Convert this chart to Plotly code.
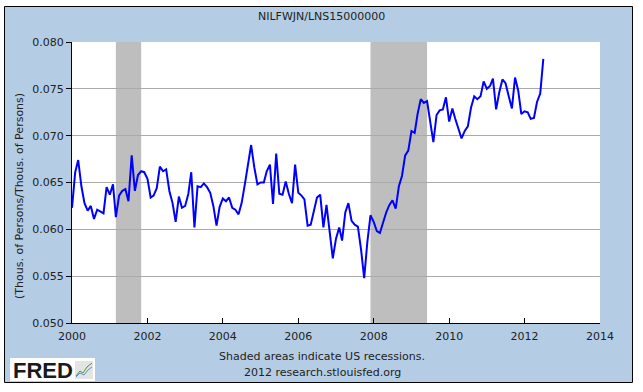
import pandas as pd
import plotly.graph_objects as go

# ---- data (monthly, Jan 2000 .. Jul 2012) ----
start_month = "2000-01-01"
ratio_values = [
    0.0623, 0.0661, 0.0674, 0.0646, 0.0628, 0.0620, 0.0625, 0.0611, 0.0621, 0.0619, 0.0617, 0.0645,
    0.0637, 0.0648, 0.0613, 0.0636, 0.0641, 0.0643, 0.0630, 0.0679, 0.0641, 0.0658, 0.0662, 0.0661,
    0.0654, 0.0634, 0.0636, 0.0644, 0.0667, 0.0662, 0.0664, 0.0641, 0.0628, 0.0608, 0.0635, 0.0623,
    0.0625, 0.0638, 0.0661, 0.0602, 0.0646, 0.0645, 0.0649, 0.0645, 0.0639, 0.0625, 0.0604, 0.0624,
    0.0633, 0.0630, 0.0634, 0.0623, 0.0621, 0.0616, 0.0628, 0.0648, 0.0668, 0.0690, 0.0666, 0.0648,
    0.0650, 0.0650, 0.0662, 0.0669, 0.0627, 0.0681, 0.0638, 0.0637, 0.0651, 0.0638, 0.0628, 0.0669,
    0.0639, 0.0636, 0.0632, 0.0604, 0.0605, 0.0621, 0.0634, 0.0637, 0.0602, 0.0626, 0.0597, 0.0569,
    0.0590, 0.0602, 0.0588, 0.0618, 0.0628, 0.0609, 0.0605, 0.0603, 0.0578, 0.0548, 0.0587, 0.0615,
    0.0608, 0.0598, 0.0596, 0.0607, 0.0618, 0.0626, 0.0631, 0.0622, 0.0646, 0.0657, 0.0679, 0.0684,
    0.0705, 0.0703, 0.0723, 0.0739, 0.0735, 0.0737, 0.0717, 0.0693, 0.0722, 0.0727, 0.0728, 0.0741,
    0.0715, 0.0729, 0.0718, 0.0707, 0.0697, 0.0705, 0.0710, 0.0730, 0.0742, 0.0739, 0.0742, 0.0758,
    0.0750, 0.0753, 0.0761, 0.0728, 0.0746, 0.0760, 0.0756, 0.0742, 0.0729, 0.0762, 0.0748, 0.0723,
    0.0726, 0.0725, 0.0718, 0.0719, 0.0736, 0.0745, 0.0782,
]
recession_starts = ["2001-03-01", "2007-12-01"]
recession_ends = ["2001-11-01", "2009-06-01"]
x_tick_years = [2000, 2002, 2004, 2006, 2008, 2010, 2012, 2014]
y_tick_values = [0.050, 0.055, 0.060, 0.065, 0.070, 0.075, 0.080]

title_text = "NILFWJN/LNS15000000"
y_title_text = "(Thous. of Persons/Thous. of Persons)"
note_lines = ["Shaded areas indicate US recessions.", "2012 research.stlouisfed.org"]

months = pd.date_range(start_month, periods=len(ratio_values), freq="MS")

# ---- geometry (pixels) ----
W, H = 643, 392
PL, PR, PT, PB = 72, 600, 42, 323
pw, ph = PR - PL, PB - PT


def px(xp):
    return (xp - PL) / pw


def py(yp):
    return (PB - yp) / ph


BLUE_BG = "#B4CDE4"
FONT = "DejaVu Sans"

fig = go.Figure()
fig.add_trace(go.Scatter(
    x=months, y=ratio_values, mode="lines",
    line=dict(color="#0000FF", width=2),
    hoverinfo="x+y", showlegend=False,
))

shapes = []
# recession shading
for s, e in zip(recession_starts, recession_ends):
    shapes.append(dict(type="rect", xref="x", yref="paper", x0=s, x1=e, y0=0, y1=1,
                       fillcolor="#BEBEBE", line=dict(width=0), layer="between"))
# white outer strip + black frame
white = dict(fillcolor="white", line=dict(width=0), layer="above", xref="paper", yref="paper", type="rect")
shapes += [
    dict(white, x0=px(-5), x1=px(W + 5), y0=py(-5), y1=py(6)),
    dict(white, x0=px(-5), x1=px(W + 5), y0=py(382), y1=py(H + 5)),
    dict(white, x0=px(-5), x1=px(4), y0=py(-5), y1=py(H + 5)),
    dict(white, x0=px(633), x1=px(W + 5), y0=py(-5), y1=py(H + 5)),
    dict(type="rect", xref="paper", yref="paper", x0=px(4.5), x1=px(632.5), y0=py(6.5), y1=py(382.5),
         line=dict(color="black", width=1), fillcolor="rgba(0,0,0,0)", layer="above"),
    # FRED logo box
    dict(type="rect", xref="paper", yref="paper", x0=px(10), x1=px(95), y0=py(358), y1=py(381),
         fillcolor="white", line=dict(width=0), layer="above"),
    dict(type="rect", xref="paper", yref="paper", x0=px(75), x1=px(93), y0=py(361), y1=py(379),
         fillcolor="#E4E4E4", line=dict(width=0), layer="above"),
    dict(type="path", xref="paper", yref="paper",
         path=f"M {px(76)} {py(376)} L {px(80)} {py(371)} L {px(83)} {py(373)} L {px(87)} {py(367)} L {px(92)} {py(363)}",
         line=dict(color="#4A9A3A", width=1), layer="above"),
    dict(type="path", xref="paper", yref="paper",
         path=f"M {px(76)} {py(377)} L {px(80)} {py(373)} L {px(84)} {py(375)} L {px(88)} {py(370)} L {px(92)} {py(367)}",
         line=dict(color="#5B8FD0", width=1), layer="above"),
]

annotations = [
    dict(text=title_text, xref="paper", yref="paper", x=px(321.5), y=py(16), showarrow=False,
         xanchor="center", yanchor="middle", font=dict(family=FONT, size=11, color="#222222")),
    dict(text=y_title_text, xref="paper", yref="paper", x=px(19), y=py(196), showarrow=False,
         textangle=-90, xanchor="center", yanchor="middle", font=dict(family=FONT, size=11, color="#222222")),
    dict(text=note_lines[0], xref="paper", yref="paper", x=px(322), y=py(356), showarrow=False,
         xanchor="center", yanchor="middle", font=dict(family=FONT, size=11, color="#222222")),
    dict(text=note_lines[1], xref="paper", yref="paper", x=px(322), y=py(372), showarrow=False,
         xanchor="center", yanchor="middle", font=dict(family=FONT, size=11, color="#222222")),
    dict(text="<b>FRED</b>", xref="paper", yref="paper", x=px(11), y=py(370), showarrow=False,
         xanchor="left", yanchor="middle", font=dict(family="Liberation Sans", size=22, color="#1A1A1A")),
]

fig.update_layout(
    width=W, height=H,
    margin=dict(l=PL, r=W - PR, t=PT, b=H - PB, pad=0),
    paper_bgcolor=BLUE_BG, plot_bgcolor="white",
    shapes=shapes, annotations=annotations,
    font=dict(family=FONT, size=11, color="#222222"),
    xaxis=dict(
        type="date",
        range=[f"{x_tick_years[0]}-01-01", f"{x_tick_years[-1]}-01-01"],
        tickvals=[f"{y}-01-01" for y in x_tick_years],
        ticktext=[str(y) for y in x_tick_years],
        ticks="inside", ticklen=5, tickcolor="black", tickwidth=1,
        showline=True, linecolor="black", linewidth=1,
        showgrid=False, zeroline=False, fixedrange=True,
        tickfont=dict(family=FONT, size=11, color="#222222"),
        ticklabelstandoff=3,
    ),
    yaxis=dict(
        range=[y_tick_values[0], y_tick_values[-1]],
        tickvals=y_tick_values,
        ticktext=[f"{v:.3f}" for v in y_tick_values],
        ticks="outside", ticklen=5, tickcolor="black", tickwidth=1,
        showline=True, linecolor="black", linewidth=1,
        showgrid=True, gridcolor="#AAAAAA", gridwidth=1,
        zeroline=False, fixedrange=True,
        tickfont=dict(family=FONT, size=11, color="#222222"),
    ),
)

fig.write_html(
    "out.html",
    config={"displayModeBar": False},
    post_script="document.body.style.margin='0';document.body.style.overflow='hidden';",
)
